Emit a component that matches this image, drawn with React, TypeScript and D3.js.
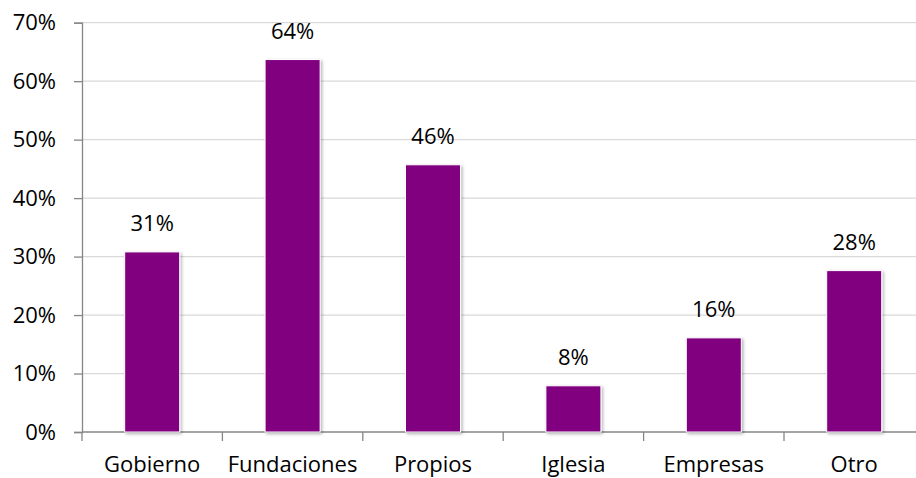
import { useEffect, useRef } from 'react';
import * as d3 from 'd3';

const categories = ['Gobierno', 'Fundaciones', 'Propios', 'Iglesia', 'Empresas', 'Otro'];
const values = [0.308, 0.637, 0.457, 0.079, 0.161, 0.276];
const valueLabels = ['31%', '64%', '46%', '8%', '16%', '28%'];
const yTicks = [0, 0.1, 0.2, 0.3, 0.4, 0.5, 0.6, 0.7];

const width = 916;
const height = 478;
const margin = { top: 22.7, right: -8.4, bottom: 46, left: 82 };
const font = '"Open Sans", sans-serif';

export default function App() {
  const svgRef = useRef<SVGSVGElement>(null);

  useEffect(() => {
    if (!svgRef.current) return;
    const svg = d3.select(svgRef.current);
    svg.selectAll('*').remove();

    const innerWidth = width - margin.left - margin.right;
    const innerHeight = height - margin.top - margin.bottom;

    const defs = svg.append('defs');
    const filter = defs
      .append('filter')
      .attr('id', 'barShadow')
      .attr('x', '-20%')
      .attr('y', '-20%')
      .attr('width', '140%')
      .attr('height', '140%');
    filter
      .append('feDropShadow')
      .attr('dx', 1.5)
      .attr('dy', 1.5)
      .attr('stdDeviation', 1.5)
      .attr('flood-color', '#000')
      .attr('flood-opacity', 0.3);

    const g = svg.append('g').attr('transform', `translate(${margin.left},${margin.top})`);

    const x = d3.scaleBand().domain(categories).range([0, innerWidth]).paddingInner(0.608).paddingOuter(0.304);
    const xTickScale = d3.scaleLinear().domain([0, categories.length]).range([0, innerWidth]);
    const y = d3.scaleLinear().domain([0, 0.7]).range([innerHeight, 0]);

    // gridlines
    g.append('g')
      .selectAll('line')
      .data(yTicks.filter((t) => t > 0))
      .join('line')
      .attr('x1', 0)
      .attr('x2', innerWidth)
      .attr('y1', (d) => y(d))
      .attr('y2', (d) => y(d))
      .attr('stroke', '#d9d9d9')
      .attr('stroke-width', 1.2);

    // y axis
    const yAxis = g
      .append('g')
      .call(
        d3
          .axisLeft(y)
          .tickValues(yTicks)
          .tickSize(8)
          .tickPadding(18)
          .tickFormat((d) => d3.format('.0%')(d as number))
      );
    yAxis.select('.domain').attr('stroke', '#868686').attr('stroke-width', 1.3);
    yAxis.selectAll('.tick line').attr('stroke', '#868686').attr('stroke-width', 1.3);
    yAxis
      .selectAll('.tick text')
      .attr('font-family', font)
      .attr('font-size', 22)
      .attr('fill', '#000');

    // x axis line and ticks
    g.append('line')
      .attr('x1', 0)
      .attr('x2', innerWidth)
      .attr('y1', innerHeight)
      .attr('y2', innerHeight)
      .attr('stroke', '#868686')
      .attr('stroke-width', 1.3);
    g.append('g')
      .selectAll('line')
      .data(d3.range(categories.length + 1))
      .join('line')
      .attr('x1', (d) => xTickScale(d))
      .attr('x2', (d) => xTickScale(d))
      .attr('y1', innerHeight)
      .attr('y2', innerHeight + 9)
      .attr('stroke', '#868686')
      .attr('stroke-width', 1.3);

    g.append('g')
      .selectAll('text')
      .data(categories)
      .join('text')
      .attr('x', (d) => (x(d) ?? 0) + x.bandwidth() / 2)
      .attr('y', innerHeight + 40)
      .attr('text-anchor', 'middle')
      .attr('font-family', font)
      .attr('font-size', 22)
      .attr('fill', '#000')
      .text((d) => d);

    // bars
    g.append('g')
      .selectAll('rect')
      .data(values)
      .join('rect')
      .attr('x', (_, i) => x(categories[i]) ?? 0)
      .attr('y', (d) => y(d))
      .attr('width', x.bandwidth())
      .attr('height', (d) => innerHeight - y(d))
      .attr('fill', '#800080')
      .attr('stroke', '#fff')
      .attr('stroke-width', 1)
      .attr('filter', 'url(#barShadow)');

    // value labels
    g.append('g')
      .selectAll('text')
      .data(values)
      .join('text')
      .attr('x', (_, i) => (x(categories[i]) ?? 0) + x.bandwidth() / 2)
      .attr('y', (d) => y(d) - 21)
      .attr('text-anchor', 'middle')
      .attr('font-family', font)
      .attr('font-size', 22)
      .attr('fill', '#000')
      .text((_, i) => valueLabels[i]);
  }, []);

  return (
    <svg
      ref={svgRef}
      width={width}
      height={height}
      style={{ position: 'absolute', left: 0, top: 0, background: '#fff', overflow: 'hidden' }}
    />
  );
}
